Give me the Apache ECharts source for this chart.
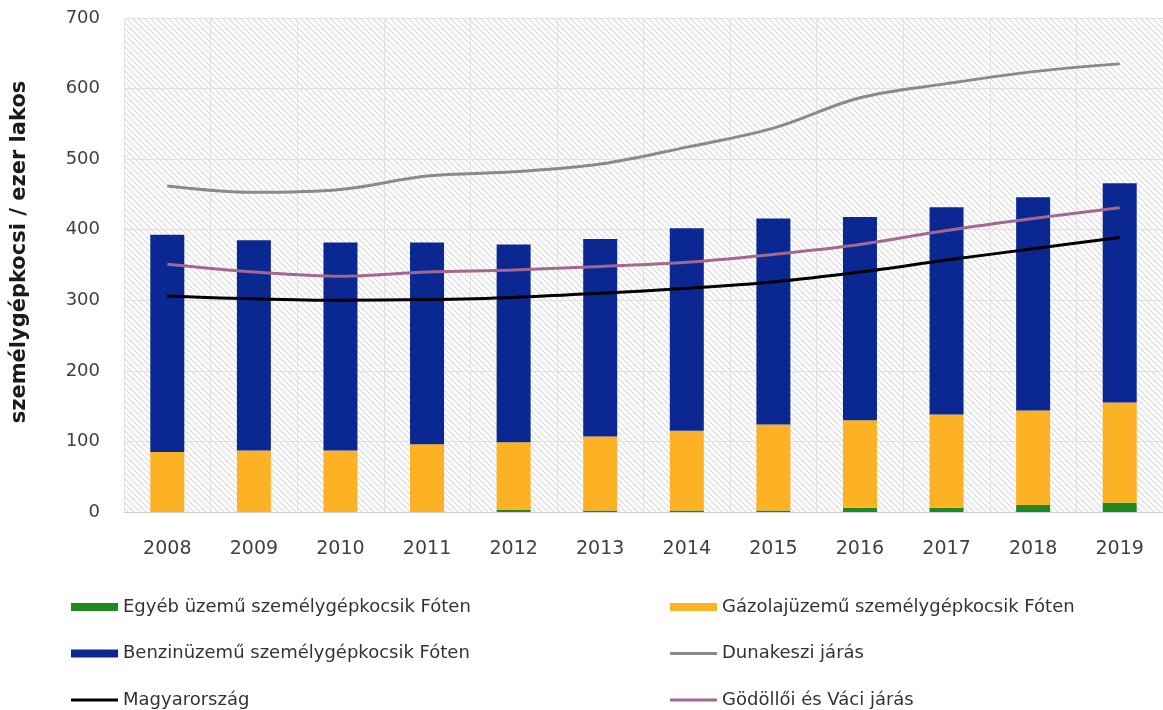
<!DOCTYPE html>
<html>
<head>
<meta charset="utf-8">
<script src="https://cdn.jsdelivr.net/npm/echarts@6/dist/echarts.min.js"></script>
<style>
  html, body { margin: 0; padding: 0; background: #ffffff; }
  #chart { width: 1163px; height: 710px; }
</style>
</head>
<body>
<div id="chart"></div>
<script>
// Személygépkocsik Fóten üzemanyag szerint, ezer lakosra vetítve
const years = ['2008', '2009', '2010', '2011', '2012', '2013', '2014', '2015', '2016', '2017', '2018', '2019'];
const egyebUzemu = [0, 0, 0, 0, 3, 2, 2, 2, 6, 6, 10, 13];
const gazolajUzemu = [85, 87, 87, 96, 96, 105, 113, 122, 124, 132, 134, 142];
const benzinUzemu = [308, 298, 295, 286, 280, 280, 287, 292, 288, 294, 302, 311];
const dunakesziJaras = [462, 453, 457, 476, 482, 493, 517, 544, 587, 607, 624, 635];
const godolloiVaciJaras = [351, 340, 334, 340, 343, 348, 354, 365, 379, 399, 416, 431];
const magyarorszag = [306, 302, 300, 301, 304, 310, 317, 326, 340, 357, 373, 389];
const yMin = 0, yMax = 700, yStep = 100;

const names = {
  egyeb: 'Egyéb üzemű személygépkocsik Fóten',
  gazolaj: 'Gázolajüzemű személygépkocsik Fóten',
  benzin: 'Benzinüzemű személygépkocsik Fóten',
  duna: 'Dunakeszi járás',
  magyar: 'Magyarország',
  godollo: 'Gödöllői és Váci járás'
};

// diagonal hatch used as the plot background
function hatchPattern() {
  const c = document.createElement('canvas');
  const s = 6;
  c.width = s; c.height = s;
  const g = c.getContext('2d');
  g.fillStyle = '#ffffff';
  g.fillRect(0, 0, s, s);
  g.strokeStyle = '#dadada';
  g.lineWidth = 1.2;
  g.beginPath();
  g.moveTo(-1, -1); g.lineTo(s + 1, s + 1);
  g.moveTo(-1, s - 1); g.lineTo(1, s + 1);
  g.moveTo(s - 1, -1); g.lineTo(s + 1, 1);
  g.stroke();
  return c;
}

const chart = echarts.init(document.getElementById('chart'), null, { renderer: 'canvas' });
const font = 'DejaVu Sans';
const textColor = '#404040';
// thin bar used as the legend key of the line series
const lineKey = 'path://M0,0h47v3h-47z';

const barBase = { type: 'bar', stack: 'foti', barWidth: 34, z: 2 };
const lineBase = { type: 'line', symbol: 'none', smooth: 0.35, z: 5 };
const legendBase = {
  top: 598, orient: 'vertical', itemGap: 28.5, padding: 0,
  itemWidth: 47, itemHeight: 8,
  textStyle: { color: '#333333', fontFamily: font, fontSize: 18, lineHeight: 18 }
};

chart.setOption({
  animation: false,
  backgroundColor: '#ffffff',
  grid: {
    left: 124, right: 0, top: 18, bottom: 198,
    show: true,
    borderWidth: 0,
    backgroundColor: { image: hatchPattern(), repeat: 'repeat' }
  },
  xAxis: {
    type: 'category',
    data: years,
    boundaryGap: true,
    axisLine: { show: true, lineStyle: { color: '#d0d0d0', width: 1 } },
    axisTick: { show: false },
    splitLine: { show: true, lineStyle: { color: '#e2e2e2', width: 1 } },
    axisLabel: { color: textColor, fontFamily: font, fontSize: 19, margin: 28 }
  },
  yAxis: {
    type: 'value',
    min: yMin, max: yMax, interval: yStep,
    axisLine: { show: false },
    axisTick: { show: false },
    splitLine: { show: true, lineStyle: { color: '#e2e2e2', width: 1 } },
    axisLabel: { color: textColor, fontFamily: font, fontSize: 18, margin: 24 }
  },
  legend: [
    Object.assign({}, legendBase, {
      left: 71,
      data: [
        { name: names.egyeb, icon: 'rect' },
        { name: names.benzin, icon: 'rect' },
        { name: names.magyar, icon: lineKey }
      ]
    }),
    Object.assign({}, legendBase, {
      left: 670,
      data: [
        { name: names.gazolaj, icon: 'rect' },
        { name: names.duna, icon: lineKey },
        { name: names.godollo, icon: lineKey }
      ]
    })
  ],
  graphic: [
    {
      type: 'text',
      x: 20, y: 252,
      rotation: Math.PI / 2,
      style: {
        text: 'személygépkocsi / ezer lakos',
        font: 'bold 21px "DejaVu Sans"',
        fill: '#1a1a1a',
        align: 'center',
        verticalAlign: 'middle'
      }
    }
  ],
  series: [
    Object.assign({}, barBase, { name: names.egyeb, data: egyebUzemu, itemStyle: { color: '#1f8a1f' } }),
    Object.assign({}, barBase, { name: names.gazolaj, data: gazolajUzemu, itemStyle: { color: '#fdb124' } }),
    Object.assign({}, barBase, { name: names.benzin, data: benzinUzemu, itemStyle: { color: '#0b2892' } }),
    Object.assign({}, lineBase, { name: names.duna, data: dunakesziJaras, lineStyle: { color: '#8a8a8a', width: 3 }, itemStyle: { color: '#8a8a8a' } }),
    Object.assign({}, lineBase, { name: names.magyar, data: magyarorszag, lineStyle: { color: '#000000', width: 3 }, itemStyle: { color: '#000000' } }),
    Object.assign({}, lineBase, { name: names.godollo, data: godolloiVaciJaras, lineStyle: { color: '#a2688f', width: 3 }, itemStyle: { color: '#a2688f' } })
  ]
});
</script>
</body>
</html>
